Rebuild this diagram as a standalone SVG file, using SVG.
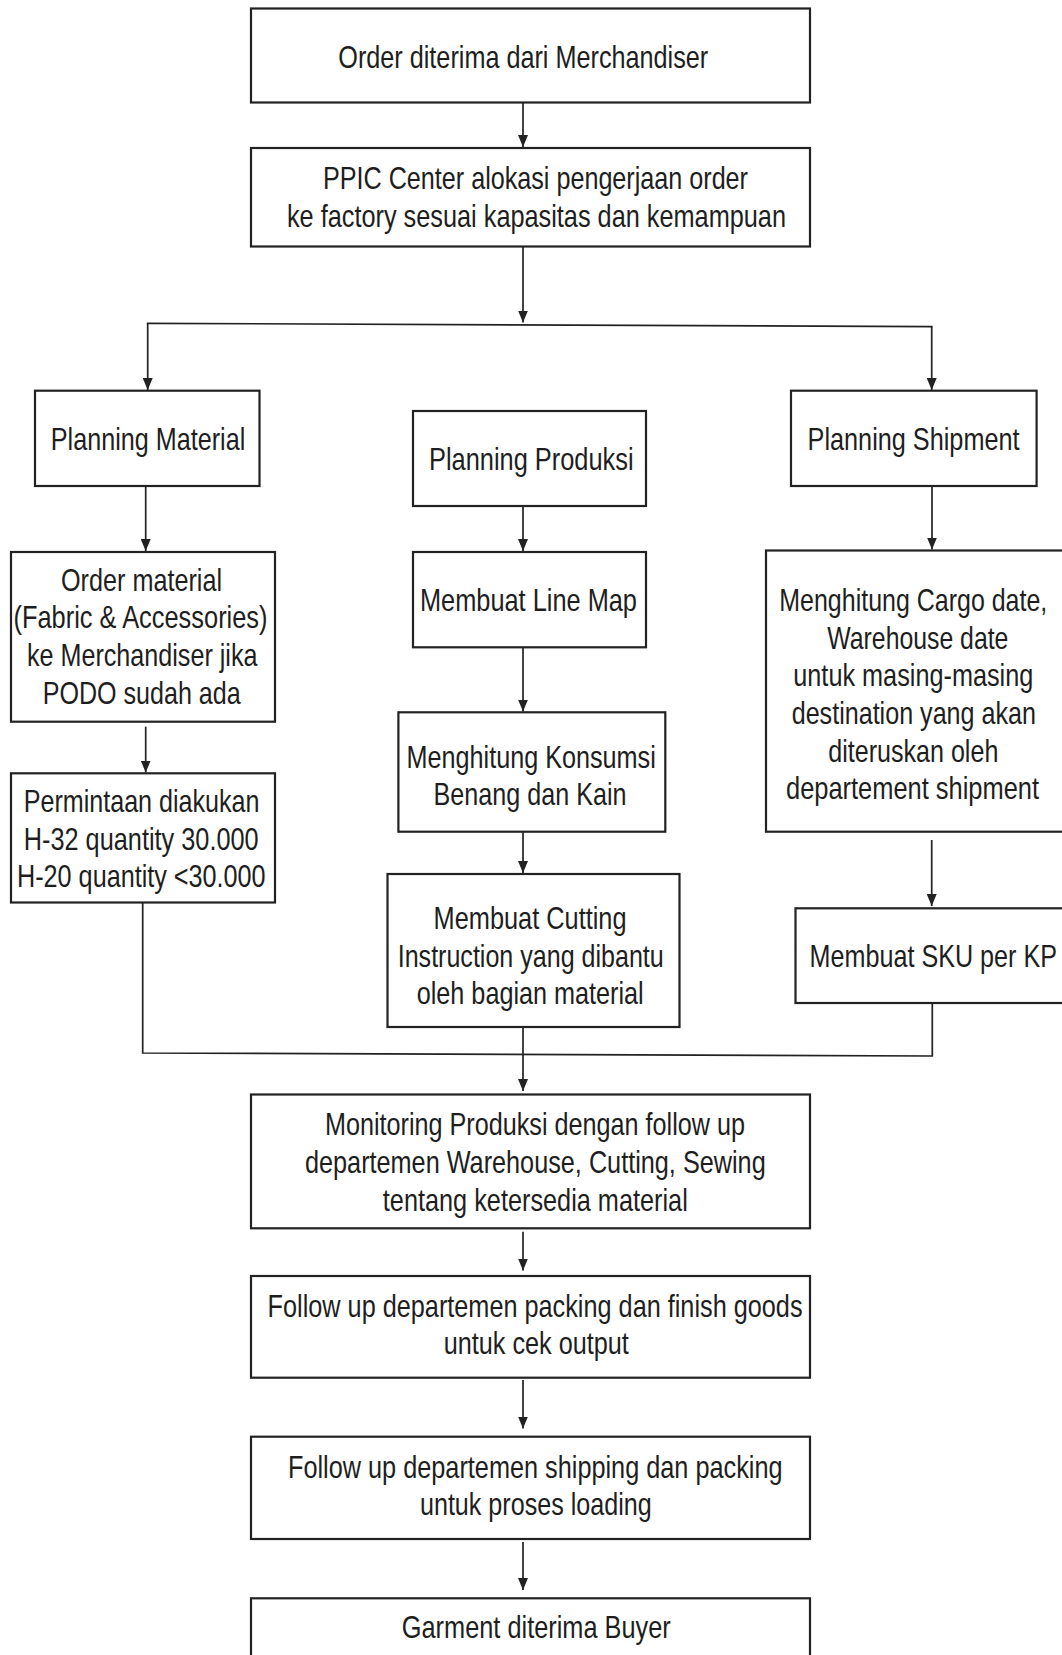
<svg xmlns="http://www.w3.org/2000/svg" width="1062" height="1655" viewBox="0 0 1062 1655">
<style>
.box{fill:#fff;stroke:#222;stroke-width:2.2}
.t{font-family:"Liberation Sans",Arial,sans-serif;font-size:32px;fill:#1e1e1e}
.c{fill:none;stroke:#222;stroke-width:1.7}
</style>
<defs>
<marker id="ah" viewBox="0 0 12 10" refX="12" refY="5" markerWidth="12" markerHeight="10" markerUnits="userSpaceOnUse" orient="auto">
<path d="M0,0 L12,5 L0,10 z" fill="#222"/>
</marker>
</defs>
<rect width="1062" height="1655" fill="#fff"/>
<g id="connectors">
<line class="c" x1="523" y1="102.5" x2="523" y2="147" marker-end="url(#ah)"/>
<line class="c" x1="523" y1="246.5" x2="523" y2="322.5" marker-end="url(#ah)"/>
<line class="c" x1="146.8" y1="323.3" x2="932.6" y2="326.7"/>
<line class="c" x1="147.7" y1="323.3" x2="147.7" y2="390" marker-end="url(#ah)"/>
<line class="c" x1="931.7" y1="326.7" x2="931.7" y2="390" marker-end="url(#ah)"/>
<line class="c" x1="145.7" y1="486" x2="145.7" y2="551" marker-end="url(#ah)"/>
<line class="c" x1="145.7" y1="726.7" x2="145.7" y2="772.5" marker-end="url(#ah)"/>
<line class="c" x1="523" y1="506" x2="523" y2="551" marker-end="url(#ah)"/>
<line class="c" x1="523" y1="647.3" x2="523" y2="711.5" marker-end="url(#ah)"/>
<line class="c" x1="523" y1="831.7" x2="523" y2="873" marker-end="url(#ah)"/>
<line class="c" x1="932" y1="486" x2="932" y2="549.5" marker-end="url(#ah)"/>
<line class="c" x1="931.7" y1="840" x2="931.7" y2="906" marker-end="url(#ah)"/>
<polyline class="c" points="142.7,902.5 142.7,1053 932.3,1056 932.3,1003"/>
<line class="c" x1="523" y1="1027" x2="523" y2="1091" marker-end="url(#ah)"/>
<line class="c" x1="523" y1="1231.7" x2="523" y2="1270.5" marker-end="url(#ah)"/>
<line class="c" x1="523" y1="1380" x2="523" y2="1428.5" marker-end="url(#ah)"/>
<line class="c" x1="523" y1="1542" x2="523" y2="1590" marker-end="url(#ah)"/>
</g>
<g id="n1"><rect class="box" x="251" y="8.5" width="559" height="94"/>
<g transform="scale(0.76,1)"><text class="t" x="445.1" y="68" textLength="486.8" lengthAdjust="spacingAndGlyphs">Order diterima dari Merchandiser</text></g></g>
<g id="n2"><rect class="box" x="251" y="148" width="559" height="98.5"/>
<g transform="scale(0.76,1)"><text class="t" x="425" y="189.5" textLength="559.2" lengthAdjust="spacingAndGlyphs">PPIC Center alokasi pengerjaan order</text>
<text class="t" x="377.6" y="227.5" textLength="656.6" lengthAdjust="spacingAndGlyphs">ke factory sesuai kapasitas dan kemampuan</text></g></g>
<g id="n3"><rect class="box" x="35" y="390.7" width="224.5" height="95.3"/>
<g transform="scale(0.76,1)"><text class="t" x="66.8" y="450.5" textLength="255.9" lengthAdjust="spacingAndGlyphs">Planning Material</text></g></g>
<g id="n4"><rect class="box" x="413" y="411" width="233" height="95"/>
<g transform="scale(0.76,1)"><text class="t" x="564.5" y="470.5" textLength="269.2" lengthAdjust="spacingAndGlyphs">Planning Produksi</text></g></g>
<g id="n5"><rect class="box" x="791" y="390.7" width="245.6" height="95.3"/>
<g transform="scale(0.76,1)"><text class="t" x="1062.6" y="450.5" textLength="278.9" lengthAdjust="spacingAndGlyphs">Planning Shipment</text></g></g>
<g id="n6"><rect class="box" x="11" y="552" width="264" height="169.7"/>
<g transform="scale(0.76,1)"><text class="t" x="80.3" y="591" textLength="211.8" lengthAdjust="spacingAndGlyphs">Order material</text>
<text class="t" x="17.8" y="628.5" textLength="334.2" lengthAdjust="spacingAndGlyphs">(Fabric &amp; Accessories)</text>
<text class="t" x="35.5" y="666.5" textLength="303.3" lengthAdjust="spacingAndGlyphs">ke Merchandiser jika</text>
<text class="t" x="56.2" y="704" textLength="260.5" lengthAdjust="spacingAndGlyphs">PODO sudah ada</text></g></g>
<g id="n7"><rect class="box" x="413" y="552" width="233" height="95.3"/>
<g transform="scale(0.76,1)"><text class="t" x="552.6" y="611" textLength="285.5" lengthAdjust="spacingAndGlyphs">Membuat Line Map</text></g></g>
<g id="n8"><rect class="box" x="398.4" y="712.3" width="266.9" height="119.4"/>
<g transform="scale(0.76,1)"><text class="t" x="534.9" y="768.3" textLength="328" lengthAdjust="spacingAndGlyphs">Menghitung Konsumsi</text>
<text class="t" x="570.5" y="805.3" textLength="253.9" lengthAdjust="spacingAndGlyphs">Benang dan Kain</text></g></g>
<g id="n9"><rect class="box" x="766" y="550.5" width="310" height="281.2"/>
<g transform="scale(0.76,1)"><text class="t" x="1025.4" y="611.5" textLength="352.6" lengthAdjust="spacingAndGlyphs">Menghitung Cargo date,</text>
<text class="t" x="1088.6" y="649" textLength="238.2" lengthAdjust="spacingAndGlyphs">Warehouse date</text>
<text class="t" x="1043.8" y="686.5" textLength="315.8" lengthAdjust="spacingAndGlyphs">untuk masing-masing</text>
<text class="t" x="1041.7" y="724.3" textLength="321.4" lengthAdjust="spacingAndGlyphs">destination yang akan</text>
<text class="t" x="1089.9" y="762" textLength="223.7" lengthAdjust="spacingAndGlyphs">diteruskan oleh</text>
<text class="t" x="1034.2" y="799.5" textLength="332.9" lengthAdjust="spacingAndGlyphs">departement shipment</text></g></g>
<g id="n10"><rect class="box" x="11" y="773.3" width="264" height="129.2"/>
<g transform="scale(0.76,1)"><text class="t" x="31.2" y="812" textLength="310.3" lengthAdjust="spacingAndGlyphs">Permintaan diakukan</text>
<text class="t" x="31.2" y="850.5" textLength="309.2" lengthAdjust="spacingAndGlyphs">H-32 quantity 30.000</text>
<text class="t" x="22.4" y="887.5" textLength="327.1" lengthAdjust="spacingAndGlyphs">H-20 quantity &lt;30.000</text></g></g>
<g id="n11"><rect class="box" x="387.5" y="874" width="292" height="153"/>
<g transform="scale(0.76,1)"><text class="t" x="570.5" y="929" textLength="253.9" lengthAdjust="spacingAndGlyphs">Membuat Cutting</text>
<text class="t" x="523.3" y="967" textLength="350" lengthAdjust="spacingAndGlyphs">Instruction yang dibantu</text>
<text class="t" x="548.3" y="1004.5" textLength="298.7" lengthAdjust="spacingAndGlyphs">oleh bagian material</text></g></g>
<g id="n12"><rect class="box" x="795.5" y="908.3" width="280" height="94.7"/>
<g transform="scale(0.76,1)"><text class="t" x="1065.3" y="967.5" textLength="325.5" lengthAdjust="spacingAndGlyphs">Membuat SKU per KP</text></g></g>
<g id="n13"><rect class="box" x="251" y="1094.5" width="559" height="133.8"/>
<g transform="scale(0.76,1)"><text class="t" x="427.6" y="1135.5" textLength="552.6" lengthAdjust="spacingAndGlyphs">Monitoring Produksi dengan follow up</text>
<text class="t" x="401.3" y="1173.5" textLength="606.2" lengthAdjust="spacingAndGlyphs">departemen Warehouse, Cutting, Sewing</text>
<text class="t" x="503.7" y="1211" textLength="401.3" lengthAdjust="spacingAndGlyphs">tentang ketersedia material</text></g></g>
<g id="n14"><rect class="box" x="251" y="1276" width="559" height="101.7"/>
<g transform="scale(0.76,1)"><text class="t" x="352.1" y="1317" textLength="703.9" lengthAdjust="spacingAndGlyphs">Follow up departemen packing dan finish goods</text>
<text class="t" x="583.9" y="1354.5" textLength="243.4" lengthAdjust="spacingAndGlyphs">untuk cek output</text></g></g>
<g id="n15"><rect class="box" x="251" y="1436.7" width="559" height="102.3"/>
<g transform="scale(0.76,1)"><text class="t" x="378.9" y="1478.5" textLength="650.8" lengthAdjust="spacingAndGlyphs">Follow up departemen shipping dan packing</text>
<text class="t" x="552.6" y="1515.5" textLength="304.9" lengthAdjust="spacingAndGlyphs">untuk proses loading</text></g></g>
<g id="n16"><rect class="box" x="251" y="1598.3" width="559" height="90"/>
<g transform="scale(0.76,1)"><text class="t" x="528.7" y="1638.5" textLength="353.9" lengthAdjust="spacingAndGlyphs">Garment diterima Buyer</text></g></g>
</svg>
